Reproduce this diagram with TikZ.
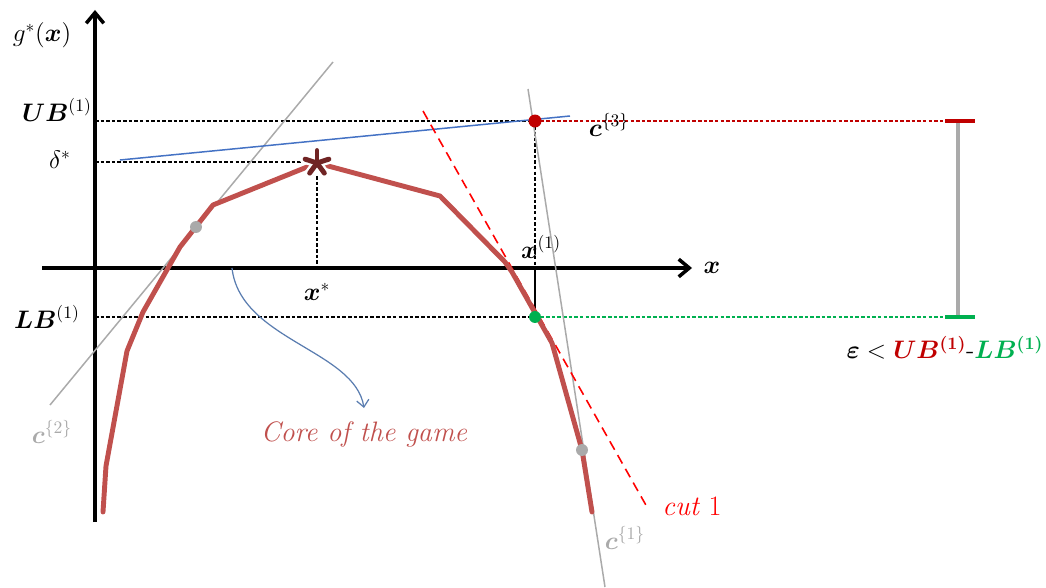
\documentclass[tikz,border=0pt]{standalone}
\usepackage{bm}
\usetikzlibrary{arrows.meta}
\definecolor{curvered}{RGB}{192,80,77}
\definecolor{starred}{RGB}{112,36,36}
\definecolor{lineblue}{RGB}{68,114,196}
\definecolor{arrblue}{RGB}{90,125,176}
\definecolor{lgray}{RGB}{170,170,170}
\definecolor{ubred}{RGB}{192,0,0}
\definecolor{lbgreen}{RGB}{0,176,80}
\definecolor{pinkdot}{RGB}{236,160,160}
\begin{document}
\begin{tikzpicture}[x=0.02cm,y=-0.02cm,
  axisline/.style={line width=2pt,-{Straight Barb[length=6pt,width=10pt,line width=2pt]}},
  guide/.style={line width=0.7pt,dash pattern=on 2pt off 1.2pt},
  tangent/.style={lgray,line width=0.85pt},
  core/.style={curvered,line width=2.8pt,line join=round,line cap=round},
  pt/.style={circle,inner sep=0pt,minimum size=0.24cm},
  lab/.style={inner sep=0pt,font=\fontsize{14.4}{17}\selectfont},
  barend/.style={line width=2.3pt}
]
\useasboundingbox (0,0) rectangle (1046,588);

% coordinates
\coordinate (yb) at (95,522);
\coordinate (yt) at (95,10);
\coordinate (xa) at (42,268);
\coordinate (xb) at (692,268);
\coordinate (ubA) at (95,121);
\coordinate (ubR) at (945,121);
\coordinate (lbA) at (95,317);
\coordinate (lbR) at (945,317);
\coordinate (dA) at (95,162);
\coordinate (dB) at (305,162);
\coordinate (sA) at (317,176);
\coordinate (sB) at (317,266);
\coordinate (x1ax) at (535,268);
\coordinate (c2a) at (333,62);
\coordinate (c2b) at (50,405);
\coordinate (c1a) at (528,89);
\coordinate (c1b) at (605,587);
\coordinate (c3a) at (120,160);
\coordinate (c3b) at (570,116);
\coordinate (cutA) at (423,111);
\coordinate (cutB) at (647,507);
\coordinate (pkA) at (170,268);
\coordinate (pkB) at (505,268);
\coordinate (arA) at (232,268);
\coordinate (arB) at (364,408);

% guide lines
\draw[guide] (ubA) -- (535,121) coordinate (ubE);
\draw[guide,ubred] (ubE) -- (ubR);
\draw[guide] (lbA) -- (535,317) coordinate (lbE);
\draw[guide,lbgreen] (lbE) -- (lbR);
\draw[guide] (dA) -- (dB);
\draw[guide] (sA) -- (sB);
\draw[guide] (ubE) -- (x1ax);
\draw[line width=0.7pt] (x1ax) -- (lbE);

% pink dotted
\draw[pinkdot,line width=1pt,dotted] (pkA) -- (pkB);

% axes
\draw[axisline] (yb) -- (yt);
\draw[axisline] (xa) -- (xb);

% tangent lines
\draw[tangent] (c2a) -- (c2b);
\draw[tangent] (c1a) -- (c1b);
\draw[lineblue,line width=0.85pt] (c3a) -- (c3b);
\draw[red,line width=0.9pt,dash pattern=on 5.5pt off 3.5pt] (cutA) -- (cutB);

% core curve
\draw[core] (103,512) -- (106,466) -- (127,351) -- (143,312) -- (168,268) -- (180,247) -- (213,205) -- (317,163) -- (440,196) -- (505,262) -- (512,272) -- (552,343) -- (582,450) -- (592,512);

% star
\node (star) at (317,163) {};
\foreach \a in {90,18,162,234,306} {
  \draw[white,line width=5.5pt,line cap=round] (star.center) -- ++(\a:0.27cm);
}
\foreach \a in {90,18,162,234,306} {
  \draw[starred,line width=2.8pt,line cap=round] (star.center) -- ++(\a:0.25cm);
}

% curved arrow
\draw[arrblue,line width=0.7pt,-{Straight Barb[length=4pt,width=7pt]}] (arA) .. controls (240,340) and (355,350) .. (arB);

% points
\node[pt,fill=lgray] (g2) at (196,227) {};
\node[pt,fill=lgray] (g1) at (582,450) {};
\node[pt,fill=ubred,minimum size=0.26cm] (p3) at (ubE) {};
\node[pt,fill=lbgreen] (pg) at (lbE) {};

% error bar
\coordinate (ebT) at (958,121);
\coordinate (ebB) at (958,317);
\draw[barend,lgray] (ebT) -- (ebB);
\draw[barend,ubred] (945,121) coordinate (ebTL) -- (975,121) coordinate (ebTR);
\draw[barend,lbgreen] (945,317) coordinate (ebBL) -- (975,317) coordinate (ebBR);

% labels
\node[lab] (lg) at (42,35) {$g^{*}(\bm{x})$};
\node[lab] (lub) at (57,110) {$\bm{UB}^{(1)}$};
\node[lab] (ld) at (60,160) {$\delta^{*}$};
\node[lab] (llb) at (47,317) {$\bm{LB}^{(1)}$};
\node[lab] (lxs) at (317,292) {$\bm{x}^{*}$};
\node[lab] (lx1) at (541,247) {$\bm{x}^{(1)}$};
\node[lab] (lx) at (712,268) {$\bm{x}$};
\node[lab] (lc3) at (609,125) {$\bm{c}^{\{3\}}$};
\node[lab,text=lgray] (lc2) at (52,432) {$\bm{c}^{\{2\}}$};
\node[lab,text=lgray] (lc1) at (625,538) {$\bm{c}^{\{1\}}$};
\node[inner sep=0pt,text=red,font=\fontsize{16}{19}\selectfont] (lcut) at (692,506) {\textit{cut} 1};
\node[inner sep=0pt,text=curvered,font=\fontsize{16}{19}\selectfont\itshape] (lcore) at (364,434) {Core of the game};
\node[inner sep=0pt,font=\fontsize{14.4}{17}\selectfont] (leps) at (945,348) {$\bm{\varepsilon} < {\color{ubred}\bm{UB^{(1)}}}\mbox{-}{\color{lbgreen}\bm{LB^{(1)}}}$};
\end{tikzpicture}
\end{document}
